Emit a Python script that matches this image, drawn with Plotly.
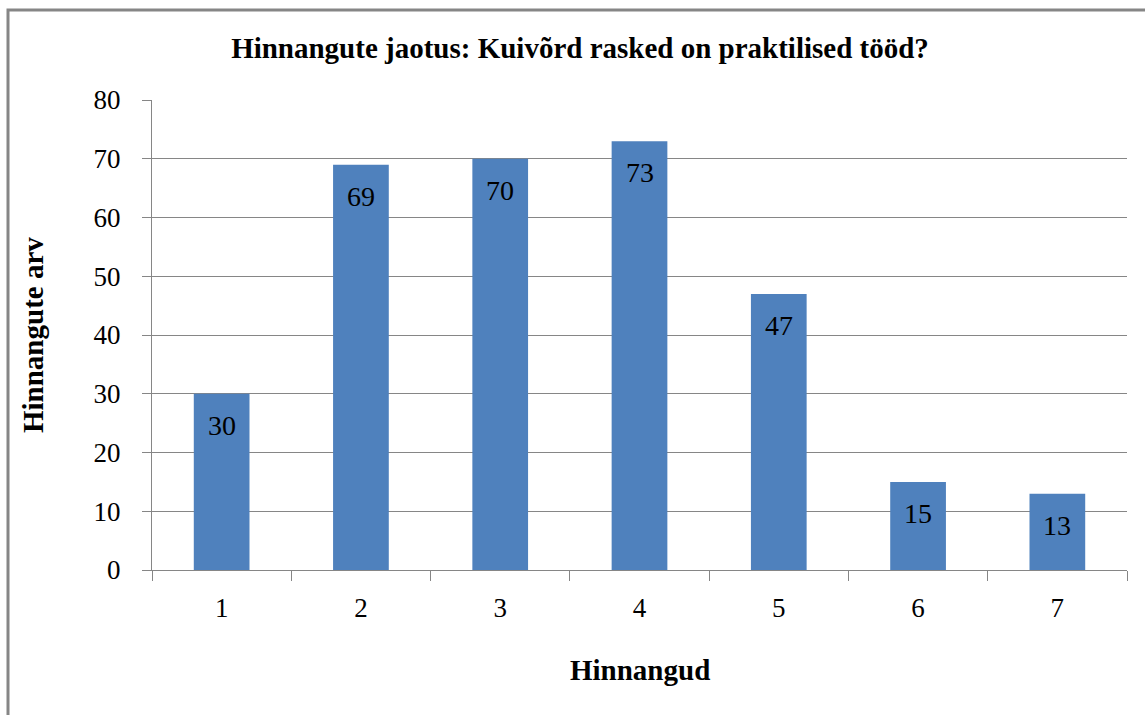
import plotly.graph_objects as go

categories = ["1", "2", "3", "4", "5", "6", "7"]
counts = [30, 69, 70, 73, 47, 15, 13]
y_ticks = [0, 10, 20, 30, 40, 50, 60, 70, 80]

title_text = "Hinnangute jaotus: Kuivõrd rasked on praktilised tööd?"
x_title = "Hinnangud"
y_title = "Hinnangute arv"

W, H = 1145, 715
L, R, T, B = 152, 18, 100, 145
PW = W - L - R
PH = H - T - B

BAR = "#4F81BD"
GRID = "#868686"
SERIF = "Liberation Serif, Times New Roman, serif"

fig = go.Figure()
fig.add_trace(go.Bar(
    x=categories, y=counts, marker=dict(color=BAR, line=dict(width=0)),
    width=0.4, hoverinfo="skip"))

for i, v in enumerate(counts):
    fig.add_annotation(x=i, y=v, text=str(v), showarrow=False,
                       yanchor="top", yshift=-14,
                       font=dict(family=SERIF, size=28, color="#000000"))

# axis titles
fig.add_annotation(xref="paper", yref="paper", x=0.5, y=(T + PH - 670) / PH,
                   text="<b>%s</b>" % x_title, showarrow=False,
                   xanchor="center", yanchor="middle",
                   font=dict(family=SERIF, size=29, color="#000000"))
fig.add_annotation(xref="paper", yref="paper", x=(33 - L) / PW, y=0.5,
                   text="<b>%s</b>" % y_title, showarrow=False, textangle=-90,
                   xanchor="center", yanchor="middle",
                   font=dict(family=SERIF, size=29, color="#000000"))

# outer chart frame (partly cropped in the reference)
fig.add_shape(type="rect", xref="paper", yref="paper",
              x0=(8 - L) / PW, x1=(W + 40 - L) / PW,
              y0=(T + PH - (H + 40)) / PH, y1=(T + PH - 10) / PH,
              line=dict(color=GRID, width=3), fillcolor="rgba(0,0,0,0)", layer="below")

fig.update_layout(
    width=W, height=H,
    margin=dict(l=L, r=R, t=T, b=B, autoexpand=False),
    paper_bgcolor="white", plot_bgcolor="white",
    showlegend=False,
    title=dict(text="<b>%s</b>" % title_text, x=580 / W, xanchor="center",
               y=1 - 48 / H, yanchor="middle",
               font=dict(family=SERIF, size=29, color="#000000")),
    bargap=0.6,
    xaxis=dict(type="category", tickson="boundaries", ticks="outside", ticklen=10,
               tickcolor=GRID, tickwidth=1, showline=True, linecolor=GRID, linewidth=1,
               showgrid=False, tickfont=dict(family=SERIF, size=27, color="#000000"),
               ticklabelstandoff=14, fixedrange=True),
    yaxis=dict(range=[0, 80], tickvals=y_ticks, ticks="outside", ticklen=9,
               tickcolor=GRID, tickwidth=1, showline=True, linecolor=GRID, linewidth=1,
               showgrid=True, gridcolor=GRID, gridwidth=1, zeroline=False,
               tickfont=dict(family=SERIF, size=27, color="#000000"),
               ticklabelstandoff=16, fixedrange=True),
)

fig.write_html("out.html", config={"displayModeBar": False},
               post_script="document.body.style.margin='0';document.body.style.overflow='hidden';")
